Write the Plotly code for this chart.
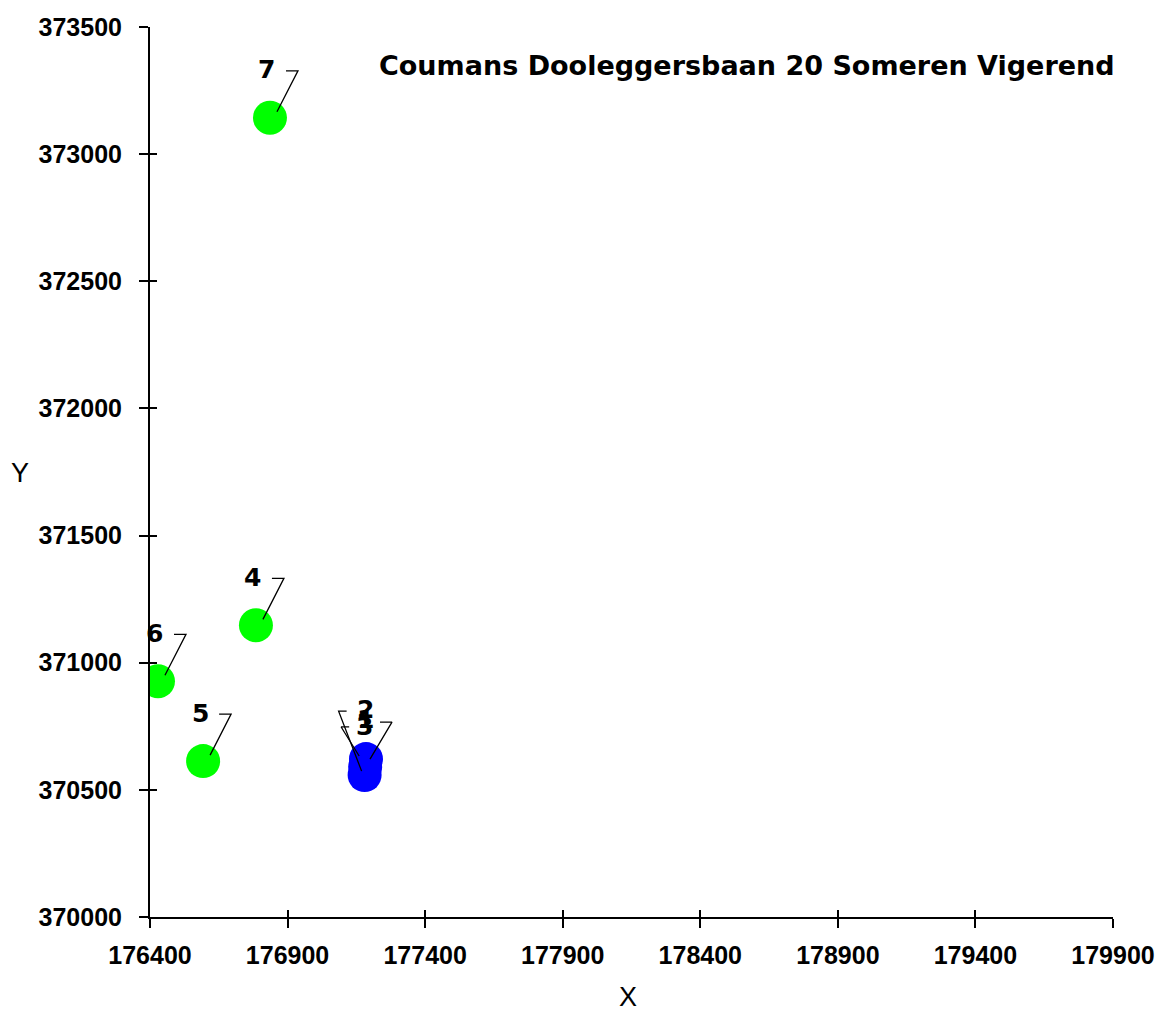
import plotly.graph_objects as go

# ---- data ----
labels = ["1", "2", "3", "4", "5", "6", "7"]
x_vals = [177182, 177185, 177180, 176785, 176593, 176429, 176836]
y_vals = [370590, 370621, 370558, 371147, 370613, 370927, 373143]
groups = ["blue", "blue", "blue", "green", "green", "green", "green"]
x_ticks = [176400, 176900, 177400, 177900, 178400, 178900, 179400, 179900]
y_ticks = [370000, 370500, 371000, 371500, 372000, 372500, 373000, 373500]
title_text = "Coumans Dooleggersbaan 20 Someren Vigerend"

# ---- layout geometry ----
W, H = 1156, 1013
ML, MR, MT, MB = 150, 43, 27, 96
PW, PH = W - ML - MR, H - MT - MB
xr = [x_ticks[0], x_ticks[-1]]
yr = [y_ticks[0], y_ticks[-1]]
ux = (xr[1] - xr[0]) / PW   # data units per pixel
uy = (yr[1] - yr[0]) / PH

col = {"blue": "#0000FF", "green": "#00FF00"}
FONT = "Liberation Sans, Arial, sans-serif"
FONT2 = "DejaVu Sans, sans-serif"

# label placement (pixel offsets; y up positive)
std_leader = [(7, 6), (28, 47), (16, 47)]
leader_style = {
    "1": [(-6, 11), (-24, 40), (-16, 40)],
    "2": [(4, 0), (26, 37), (14, 37)],
    "3": [(-3, 4), (-26, 64), (-18, 64)],
}
label_shift = {"1": (0, 47), "2": (0, 50), "3": (0, 49)}

fig = go.Figure()

# leader lines
lx, ly = [], []
for lab, xv, yv in zip(labels, x_vals, y_vals):
    pts = leader_style.get(lab, std_leader)
    for dx, dy in pts:
        lx.append(xv + dx * ux)
        ly.append(yv + dy * uy)
    lx.append(None)
    ly.append(None)

for g in ["green", "blue"]:
    idx = [i for i, gg in enumerate(groups) if gg == g]
    fig.add_trace(go.Scatter(
        x=[x_vals[i] for i in idx], y=[y_vals[i] for i in idx],
        mode="markers",
        marker=dict(size=34, color=col[g], line=dict(width=0)),
        hoverinfo="text", text=[labels[i] for i in idx],
        showlegend=False, cliponaxis=True,
    ))

fig.add_trace(go.Scatter(x=lx, y=ly, mode="lines",
                         line=dict(color="black", width=1.3),
                         hoverinfo="skip", showlegend=False, cliponaxis=False))

# invisible trace for overlay axes
fig.add_trace(go.Scatter(x=[xr[0]], y=[yr[0]], xaxis="x2", yaxis="y2",
                         mode="markers", marker=dict(opacity=0),
                         hoverinfo="skip", showlegend=False))

# point labels
for lab, xv, yv in zip(labels, x_vals, y_vals):
    sx, sy = label_shift.get(lab, (-3, 48))
    fig.add_annotation(x=xv, y=yv, xref="x", yref="y", text=lab,
                       showarrow=False, xshift=sx, yshift=sy,
                       font=dict(family=FONT2, size=25, color="black", weight="bold"))

axis_common = dict(showgrid=False, zeroline=False, showline=True,
                   linecolor="black", linewidth=2, automargin=False,
                   ticks="outside", ticklen=9, tickwidth=1.5, tickcolor="black",
                   tickfont=dict(family=FONT, size=25, color="black", weight="bold"))

fig.update_layout(
    width=W, height=H,
    margin=dict(l=ML, r=MR, t=MT, b=MB, pad=0, autoexpand=False),
    paper_bgcolor="white", plot_bgcolor="white",
    xaxis=dict(range=xr, tickvals=x_ticks, ticktext=[str(v) for v in x_ticks],
               ticklabelstandoff=6, **axis_common),
    yaxis=dict(range=yr, tickvals=y_ticks, ticktext=[str(v) for v in y_ticks],
               ticklabelstandoff=12, **axis_common),
    xaxis2=dict(range=xr, overlaying="x", anchor="y2", tickvals=x_ticks,
                showticklabels=False, ticks="inside", ticklen=7, tickwidth=1.5,
                tickcolor="black", showgrid=False, zeroline=False, showline=False,
                automargin=False),
    yaxis2=dict(range=yr, overlaying="y", anchor="x2", tickvals=y_ticks,
                showticklabels=False, ticks="inside", ticklen=7, tickwidth=1.5,
                tickcolor="black", showgrid=False, zeroline=False, showline=False,
                automargin=False),
    showlegend=False,
)

# title and axis titles
fig.add_annotation(xref="paper", yref="paper", x=(377 - ML) / PW, y=1 - (65 - MT) / PH,
                   xanchor="left", yanchor="middle", showarrow=False, text=title_text,
                   font=dict(family=FONT2, size=27, color="black", weight="bold"))
fig.add_annotation(xref="paper", yref="paper", x=(628 - ML) / PW, y=-(997 - MT - PH) / PH,
                   xanchor="center", yanchor="middle", showarrow=False, text="X",
                   font=dict(family=FONT, size=27, color="black"))
fig.add_annotation(xref="paper", yref="paper", x=-(ML - 20) / PW, y=1 - (473 - MT) / PH,
                   xanchor="center", yanchor="middle", showarrow=False, text="Y",
                   font=dict(family=FONT, size=27, color="black"))

fig.write_html("out.html", config={"displayModeBar": False},
               post_script="document.body.style.margin='0';document.body.style.overflow='hidden';")
